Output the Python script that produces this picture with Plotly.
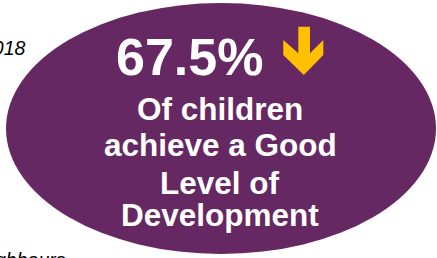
import plotly.graph_objects as go

# --- data / text content ---
headline_value = ["67.5%"]
trend = ["down"]
caption_lines = ["Of children", "achieve a Good", "Level of", "Development"]
side_texts = ["2018", "neighbours"]

W, H = 437, 258
PURPLE = "#662862"
YELLOW = "#FFC000"

fig = go.Figure()

# invisible trace to establish axes
fig.add_trace(go.Scatter(x=[0, W], y=[0, H], mode="markers",
                         marker=dict(opacity=0), hoverinfo="skip", showlegend=False))

# ellipse
fig.add_shape(type="circle", xref="x", yref="y",
              x0=6, x1=436, y0=3, y1=254,
              fillcolor=PURPLE, line=dict(width=0), layer="below")

# down arrow
ax = [283.3, 298.3, 298.3, 310, 310, 323.3, 323.3, 303.8, 283.3]
ay = [40, 53.3, 26.7, 26.7, 53.3, 40, 55, 75, 55]
path = "M " + " L ".join(f"{x},{y}" for x, y in zip(ax, ay)) + " Z"
fig.add_shape(type="path", xref="x", yref="y", path=path,
              fillcolor=YELLOW, line=dict(width=0))

FONT = "Liberation Sans, Arial, sans-serif"

fig.add_annotation(x=189, y=56.5, xref="x", yref="y", text=f"<b>{headline_value[0]}</b>",
                   showarrow=False, xanchor="center", yanchor="middle",
                   font=dict(family=FONT, size=52, color="white"))

line_y = [109, 145, 183, 215]
for txt, yy in zip(caption_lines, line_y):
    fig.add_annotation(x=220, y=yy, xref="x", yref="y", text=f"<b>{txt}</b>",
                       showarrow=False, xanchor="center", yanchor="middle",
                       font=dict(family=FONT, size=31.5, color="white"))

fig.add_annotation(x=(24 + 4) / W, y=1 - 48 / H, xref="paper", yref="paper",
                   text=f"<i>{side_texts[0]}</i>",
                   showarrow=False, xanchor="right", yanchor="middle",
                   font=dict(family=FONT, size=19.5, color="black"))
fig.add_annotation(x=(64 + 4) / W, y=1 - 247 / H, xref="paper", yref="paper",
                   text=f"<i>{side_texts[1]}</i>",
                   showarrow=False, xanchor="right", yanchor="top",
                   font=dict(family=FONT, size=19.5, color="black"))

fig.update_xaxes(range=[0, W], visible=False, fixedrange=True)
fig.update_yaxes(range=[H, 0], visible=False, fixedrange=True)
fig.update_layout(width=W, height=H, margin=dict(l=0, r=0, t=0, b=0),
                  paper_bgcolor="white", plot_bgcolor="white", showlegend=False)

fig.write_html("out.html", config={"displayModeBar": False},
               post_script="document.body.style.margin='0';document.body.style.overflow='hidden';")
